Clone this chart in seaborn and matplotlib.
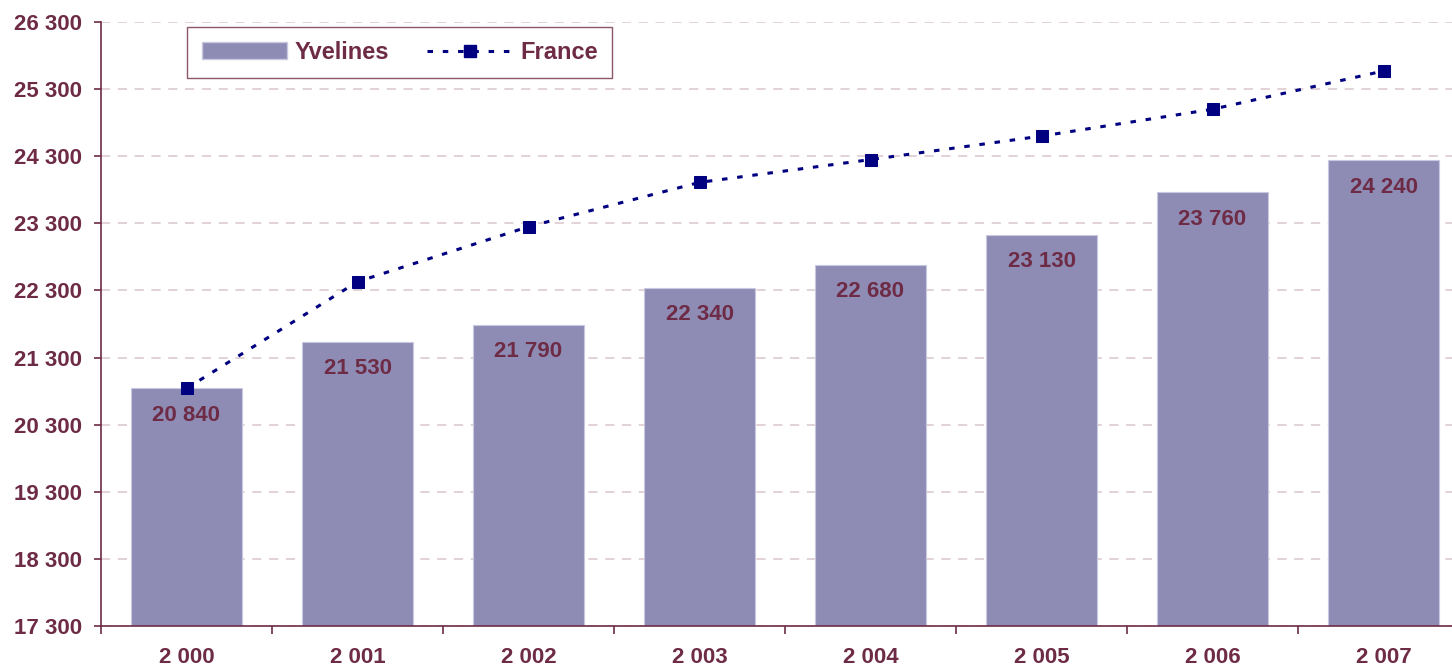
import matplotlib
matplotlib.use("Agg")
import matplotlib.pyplot as plt
import seaborn as sns
import pandas as pd
from matplotlib.patches import Patch
from matplotlib.lines import Line2D
from matplotlib.ticker import FuncFormatter

years = ["2 000", "2 001", "2 002", "2 003", "2 004", "2 005", "2 006", "2 007"]
yvelines = [20840, 21530, 21790, 22340, 22680, 23130, 23760, 24240]
france = [20840, 22430, 23250, 23910, 24250, 24600, 25000, 25570]
bar_labels = ["20 840", "21 530", "21 790", "22 340", "22 680", "23 130", "23 760", "24 240"]

TXT = "#6E2B45"
BAR = "#8E8CB5"
LINE = "#000080"
GRID = "#D8C6CB"
DOT = (0, (1.8, 3.2))

sns.set_theme(style="white")
plt.rcParams["font.family"] = ["Liberation Sans", "DejaVu Sans"]
plt.rcParams["font.weight"] = "bold"

fig = plt.figure(figsize=(14.52, 6.69), dpi=100)
ax = fig.add_axes([101 / 1452, 1 - 626 / 669, 1 - 101 / 1452, (626 - 22) / 669])

df = pd.DataFrame({"year": years, "Yvelines": yvelines, "France": france})

sns.barplot(data=df, x="year", y="Yvelines", color=BAR, saturation=1, width=0.645,
            edgecolor="#C8C8E0", linewidth=0.8, ax=ax, zorder=2)
sns.lineplot(x=list(range(len(years))), y=france, ax=ax, color=LINE, linestyle=DOT,
             linewidth=2.2, marker="s", markersize=9, markeredgecolor=LINE, zorder=4)

for i, (v, lab) in enumerate(zip(yvelines, bar_labels)):
    ax.text(i, v - 400, lab, ha="center", va="center", color=TXT, fontsize=16,
            fontweight="bold", zorder=5)

ax.set_ylim(17300, 26300)
ax.set_yticks(range(17300, 26301, 1000))
ax.yaxis.set_major_formatter(FuncFormatter(lambda v, p: f"{int(v):,}".replace(",", " ")))
ax.set_xlim(-0.5, -0.5 + (1452 - 101) / 171.0)
ax.set_xticks([i + 0.5 for i in range(-1, 7)])
ax.set_xticklabels([])
ax.set_xticks(range(len(years)), minor=True)
ax.set_xticklabels(years, minor=True)
ax.set_xlabel("")
ax.set_ylabel("")

ax.grid(axis="y", color=GRID, linestyle=(0, (6, 5)), linewidth=1.1, zorder=0)
ax.set_axisbelow(True)
ax.grid(axis="x", visible=False)

for s in ["top", "right"]:
    ax.spines[s].set_visible(False)
for s in ["left", "bottom"]:
    ax.spines[s].set_color(TXT)
    ax.spines[s].set_linewidth(1.2)

ax.tick_params(axis="y", which="major", direction="out", length=5, width=1.2, color=TXT,
               labelcolor=TXT, labelsize=16, pad=8.5, left=True)
ax.tick_params(axis="x", which="major", direction="out", length=6, width=1.2, color=TXT, bottom=True)
ax.tick_params(axis="x", which="minor", length=0, labelcolor=TXT, labelsize=16, pad=15, bottom=True)
for t in ax.get_yticklabels() + ax.get_xticklabels(minor=True):
    t.set_fontweight("bold")

handles = [Patch(facecolor=BAR, edgecolor="#C8C8E0", label="Yvelines"),
           Line2D([0], [0], color=LINE, linestyle=DOT, linewidth=2.2, marker="s",
                  markersize=9, label="France")]
leg = ax.legend(handles=handles, loc="upper left", bbox_to_anchor=(0.064, 0.992),
                borderaxespad=0, ncol=2, frameon=True, fancybox=False, fontsize=17,
                handlelength=3.6, handleheight=0.72, columnspacing=1.6, handletextpad=0.35,
                borderpad=0.6)
leg.get_frame().set_edgecolor(TXT)
leg.get_frame().set_linewidth(1.0)
for t in leg.get_texts():
    t.set_color(TXT)
    t.set_fontweight("bold")

fig.savefig("out.png", dpi=100, facecolor="white")
